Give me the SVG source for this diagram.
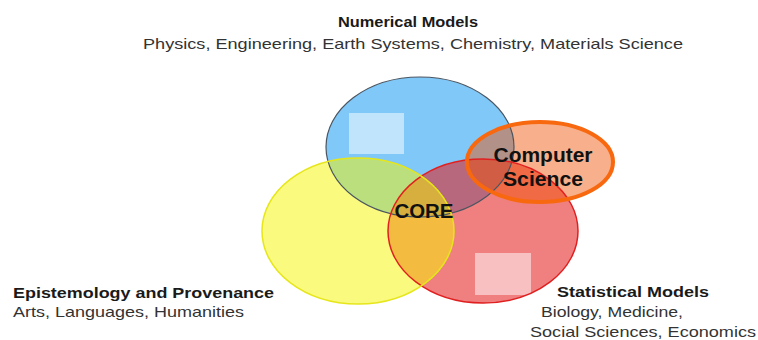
<svg xmlns="http://www.w3.org/2000/svg" width="758" height="340" viewBox="0 0 758 340">
  <style>
    .title { font-family: "Liberation Sans", Arial, sans-serif; font-weight: bold; font-size: 15px; fill: #1a1a1a; }
    .sub { font-family: "Liberation Sans", Arial, sans-serif; font-size: 15px; fill: #333; }
    .core { font-family: "Liberation Sans", Arial, sans-serif; font-weight: bold; font-size: 20px; fill: #111; }
    .hl { fill: #ffffff; fill-opacity: 0.5; }
  </style>
  <rect width="758" height="340" fill="#ffffff"/>

  <!-- fills -->
  <g id="numerical">
    <ellipse cx="420" cy="147" rx="94" ry="70" fill="#80c8f8"/>
    <rect class="hl" x="349" y="113" width="55" height="41"/>
  </g>
  <g id="statistical">
    <ellipse cx="483" cy="231" rx="95" ry="72" fill="#e51c1c" fill-opacity="0.56"/>
    <rect class="hl" x="475" y="253" width="56" height="42"/>
  </g>
  <g id="epistemology">
    <ellipse cx="358" cy="231" rx="96" ry="73" fill="#f5f500" fill-opacity="0.5"/>
  </g>
  <g id="computer-science">
    <ellipse cx="540" cy="162" rx="73" ry="40" fill="#f05000" fill-opacity="0.45"/>
  </g>

  <!-- outlines -->
  <g id="outlines" fill="none">
    <ellipse cx="420" cy="147" rx="94" ry="70" stroke="#4a5560" stroke-width="1.2"/>
    <ellipse cx="483" cy="231" rx="95" ry="72" stroke="#e02020" stroke-width="1.5"/>
    <ellipse cx="358" cy="231" rx="96" ry="73" stroke="#e6e61a" stroke-width="1.5"/>
    <ellipse cx="540" cy="162" rx="73" ry="40" stroke="#f8680f" stroke-width="4"/>
  </g>

  <!-- labels -->
  <g id="labels">
    <text class="core" x="424" y="218" text-anchor="middle" textLength="59" lengthAdjust="spacingAndGlyphs">CORE</text>
    <text class="core" x="543" y="162" text-anchor="middle" textLength="99" lengthAdjust="spacingAndGlyphs">Computer</text>
    <text class="core" x="543" y="186" text-anchor="middle" textLength="80" lengthAdjust="spacingAndGlyphs">Science</text>

    <text class="title" x="338" y="27" textLength="140" lengthAdjust="spacingAndGlyphs">Numerical Models</text>
    <text class="sub" x="143" y="49" textLength="540" lengthAdjust="spacingAndGlyphs">Physics, Engineering, Earth Systems, Chemistry, Materials Science</text>

    <text class="title" x="13" y="298" textLength="261" lengthAdjust="spacingAndGlyphs">Epistemology and Provenance</text>
    <text class="sub" x="13" y="317" textLength="231" lengthAdjust="spacingAndGlyphs">Arts, Languages, Humanities</text>

    <text class="title" x="557" y="297" textLength="152" lengthAdjust="spacingAndGlyphs">Statistical Models</text>
    <text class="sub" x="541" y="317" textLength="142" lengthAdjust="spacingAndGlyphs">Biology, Medicine,</text>
    <text class="sub" x="530" y="337" textLength="226" lengthAdjust="spacingAndGlyphs">Social Sciences, Economics</text>
  </g>
</svg>
